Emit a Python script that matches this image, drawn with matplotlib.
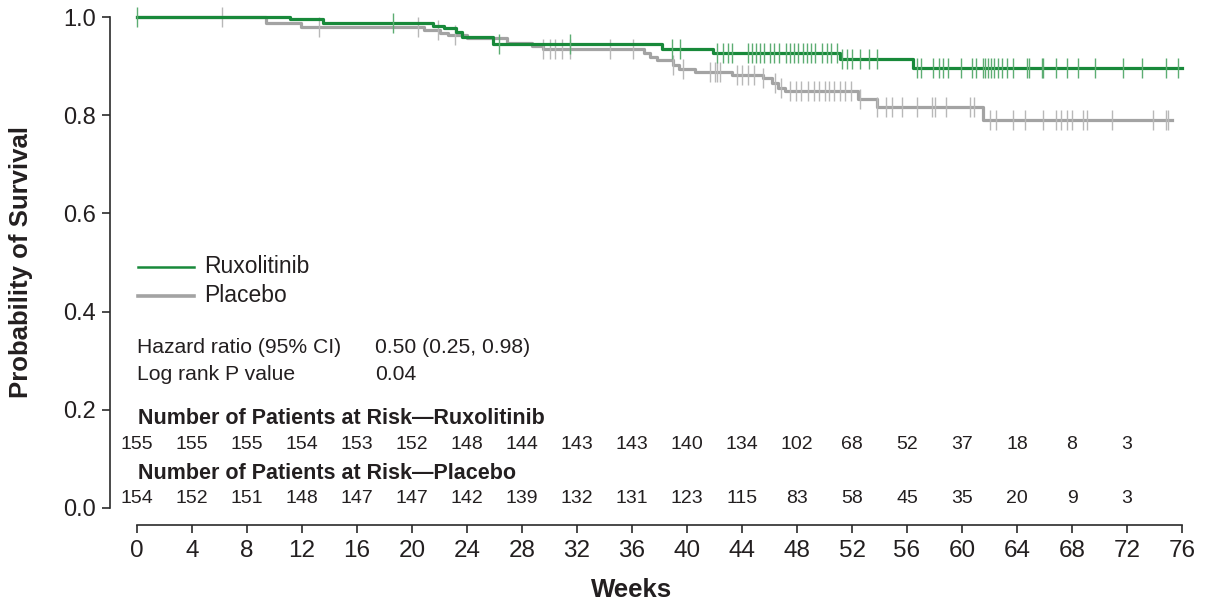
import numpy as np
import matplotlib
matplotlib.use("Agg")
import matplotlib.pyplot as plt
from matplotlib.lines import Line2D

plt.rcParams['font.family'] = ['Liberation Sans', 'DejaVu Sans']

# ---------------- data ----------------
rux_times = [0, 11.1, 13.5, 21.5, 22.3, 23.2, 23.6, 25.9, 38.2, 41.9, 51.1, 56.4]
rux_surv = [1.0, 0.995, 0.987, 0.982, 0.977, 0.970, 0.960, 0.944, 0.934, 0.927, 0.914, 0.896]
rux_censor = [0, 18.6, 26.3, 31.5, 38.9, 39.5, 42.2, 42.6, 43.0, 43.3,
              44.4, 44.7, 45.0, 45.3, 45.6, 46.0, 46.3, 46.7, 47.2, 47.5, 47.8, 48.1,
              48.4, 48.7, 49.0, 49.3, 49.8, 50.2, 50.5, 50.9,
              51.3, 51.6, 52.0, 52.6, 53.2, 53.8,
              56.7, 57.0, 57.9, 58.3, 58.6, 59.0, 59.9, 60.7, 61.0,
              61.5, 61.7, 61.9, 62.1, 62.3, 62.6, 62.9, 63.3, 63.7,
              64.7, 64.9, 65.8, 65.9, 66.8, 67.6, 68.4, 69.7, 71.7, 73.1, 74.8, 75.7]

pla_times = [0, 9.4, 11.9, 20.9, 22.0, 22.6, 24.0, 26.9, 28.7, 29.5, 36.9, 37.3, 37.8,
             39.0, 39.4, 40.6, 43.3, 45.5, 46.2, 46.6, 47.1, 52.4, 53.8, 61.5]
pla_surv = [1.0, 0.987, 0.979, 0.974, 0.967, 0.963, 0.957, 0.948, 0.940, 0.934, 0.926, 0.919,
            0.912, 0.903, 0.895, 0.887, 0.882, 0.875, 0.865, 0.856, 0.849, 0.832, 0.817, 0.790]
pla_censor = [6.2, 13.2, 20.4, 21.9, 23.1, 29.5, 30.0, 30.4, 30.9, 31.5, 34.4, 36.1,
              39.0, 39.7, 41.7, 42.0, 42.2, 42.4, 43.6, 44.0, 44.4, 44.9, 45.5,
              46.4, 46.8, 47.5, 47.9, 48.3, 48.8, 49.2, 49.6, 50.0, 50.3, 50.7, 51.1, 51.5, 51.9,
              52.6, 53.8, 54.5, 54.9, 55.6, 56.7, 57.8, 58.0, 58.8, 60.6, 60.9,
              62.0, 62.5, 63.7, 64.6, 65.9, 66.8, 67.2, 67.6, 68.0, 68.8, 69.1, 70.9,
              73.9, 74.8, 75.0]
rux_end = 76.0
pla_end = 75.3

risk_weeks = [0, 4, 8, 12, 16, 20, 24, 28, 32, 36, 40, 44, 48, 52, 56, 60, 64, 68, 72]
risk_rux = [155, 155, 155, 154, 153, 152, 148, 144, 143, 143, 140, 134, 102, 68, 52, 37, 18, 8, 3]
risk_pla = [154, 152, 151, 148, 147, 147, 142, 139, 132, 131, 123, 115, 83, 58, 45, 35, 20, 9, 3]

x_ticks = list(range(0, 77, 4))
y_ticks = [0.0, 0.2, 0.4, 0.6, 0.8, 1.0]

GREEN = '#18893a'
GREEN_T = '#5cad72'
GRAY = '#a3a3a3'
GRAY_T = '#b8b8b8'
DARK = '#2b2b2b'
TXT = '#231f20'


def step_value(times, surv, t):
    idx = np.searchsorted(times, t, side='right') - 1
    return np.asarray(surv)[idx]


fig = plt.figure(figsize=(12.13, 6.06), dpi=100)
ax = fig.add_axes([137 / 1213, 1 - 508 / 606, 1045 / 1213, 491 / 606])
ax.set_xlim(0, 76)
ax.set_ylim(0, 1)

for times, surv, end, cens, col, tcol, z in [
        (pla_times, pla_surv, pla_end, pla_censor, GRAY, GRAY_T, 2),
        (rux_times, rux_surv, rux_end, rux_censor, GREEN, GREEN_T, 3)]:
    xs = list(times) + [end]
    ys = list(surv) + [surv[-1]]
    ax.step(xs, ys, where='post', color=col, lw=2.3, clip_on=False, zorder=z)
    cy = step_value(times, surv, np.array(cens))
    ax.plot(cens, cy, linestyle='none', marker='|', markersize=14, mew=1.0,
            color=tcol, clip_on=False, zorder=z)

# spines
for s in ['top', 'right']:
    ax.spines[s].set_visible(False)
ax.spines['left'].set_position(('outward', 19.4))
ax.spines['bottom'].set_position(('outward', 12.4))
ax.spines['left'].set_bounds(0, 1)
ax.spines['bottom'].set_bounds(0, 76)
for s in ['left', 'bottom']:
    ax.spines[s].set_color(DARK)
    ax.spines[s].set_linewidth(1.2)

ax.set_xticks(x_ticks)
ax.set_xticklabels([str(v) for v in x_ticks])
ax.set_yticks(y_ticks)
ax.set_yticklabels([f'{v:.1f}' for v in y_ticks])
ax.tick_params(axis='both', colors=DARK, labelcolor=TXT, length=5.8, width=1.2)
ax.tick_params(axis='y', pad=4.5, labelsize=17)
ax.tick_params(axis='x', pad=5, labelsize=17.5)

ax.set_xlabel('Weeks', fontsize=18.5, fontweight='bold', color=TXT)
ax.xaxis.set_label_coords(0.473, -0.142)
ax.set_ylabel('Probability of Survival', fontsize=18.5, fontweight='bold', color=TXT)
ax.yaxis.set_label_coords(-0.0995, 0.5)

# legend (manual)
tr = ax.transAxes
ax.add_line(Line2D([0.001, 0.055], [0.491, 0.491], transform=tr, color=GREEN, lw=1.8, clip_on=False))
ax.add_line(Line2D([0.001, 0.055], [0.432, 0.432], transform=tr, color=GRAY, lw=2.6, clip_on=False))
ax.text(0.064, 0.491, 'Ruxolitinib', transform=tr, fontsize=16.5, va='center', ha='left', color=TXT)
ax.text(0.064, 0.432, 'Placebo', transform=tr, fontsize=16.5, va='center', ha='left', color=TXT)

ax.text(0.0, 0.326, 'Hazard ratio (95% CI)', fontsize=15.2, va='center', ha='left', color=TXT)
ax.text(17.3, 0.326, '0.50 (0.25, 0.98)', fontsize=15.2, va='center', ha='left', color=TXT)
ax.text(0.0, 0.271, 'Log rank P value', fontsize=15.2, va='center', ha='left', color=TXT)
ax.text(17.3, 0.271, '0.04', fontsize=15.2, va='center', ha='left', color=TXT)

ax.text(0.1, 0.183, 'Number of Patients at Risk\u2014Ruxolitinib', fontsize=15.5,
        fontweight='bold', va='center', ha='left', color=TXT)
for w, n in zip(risk_weeks, risk_rux):
    ax.text(w, 0.130, str(n), fontsize=14, va='center', ha='center', color=TXT)
ax.text(0.1, 0.071, 'Number of Patients at Risk\u2014Placebo', fontsize=15.5,
        fontweight='bold', va='center', ha='left', color=TXT)
for w, n in zip(risk_weeks, risk_pla):
    ax.text(w, 0.020, str(n), fontsize=14, va='center', ha='center', color=TXT)

fig.savefig('out.png', dpi=100)
